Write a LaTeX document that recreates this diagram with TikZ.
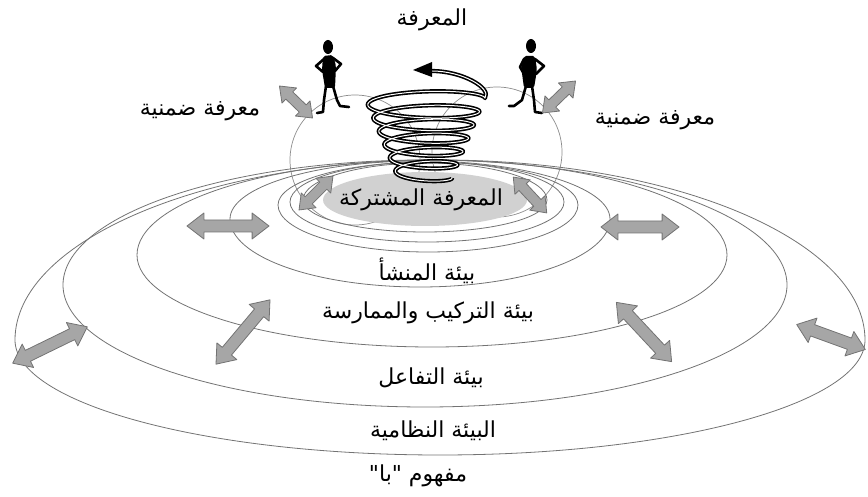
\documentclass[tikz,border=0pt]{standalone}
\usepackage{fontspec}
\newfontfamily\arabicfont[Script=Arabic]{DejaVu Sans}
\TeXXeTstate=1
\usetikzlibrary{arrows.meta}

% one flattened ring: centre x, widest y, half width, upper and lower half height
\newcommand{\ring}[5]{%
  \draw[ring] (#1+#3,#2) arc[start angle=0, end angle=180, x radius=#3pt, y radius=#4pt]
    arc[start angle=180, end angle=360, x radius=#3pt, y radius=#5pt];}

% two-headed block arrow: name, x, y, angle, length, shaft half width, head half width
\newcommand{\twoway}[7]{%
  \begin{scope}[shift={(#2,#3)}, rotate=#4]
    \pgfmathsetmacro\hl{#5/2}
    \pgfmathsetmacro\hk{#5/2-1.3*#7}
    \coordinate (#1) at (0,0);
    \filldraw[arrowbody] (-\hl,0) -- (-\hk,#7) -- (-\hk,#6) -- (\hk,#6) -- (\hk,#7) -- (\hl,0)
      -- (\hk,-#7) -- (\hk,-#6) -- (-\hk,-#6) -- (-\hk,-#7) -- cycle;
  \end{scope}}

\begin{document}
\begin{tikzpicture}[x=1pt, y=-1pt,
    ring/.style={draw=black!55, line width=0.8pt},
    arrowbody/.style={draw=black!55, fill=black!35, line width=0.8pt, line join=round},
    limb/.style={line width=2.6pt, line cap=round, line join=round},
    lbl/.style={font=\arabicfont\fontsize{22}{25}\selectfont, inner sep=1pt}]
	\useasboundingbox (0,0) rectangle (868,497);

	% circles round the two persons
	\draw[black!45, line width=0.7pt] (355,160) circle[radius=65pt];
	\draw[black!45, line width=0.7pt] (497,152) circle[radius=65pt];

	% rings of the places
	\fill[black!18] (527,200) arc[start angle=0, end angle=180, x radius=102pt, y radius=28pt]
		arc[start angle=180, end angle=360, x radius=102pt, y radius=26pt];
	\ring{425}{200}{122}{37}{32}
	\ring{427}{202}{137}{40}{40}
	\ring{428}{205}{150}{43}{47}
	\ring{420}{219}{190}{58}{68}
	\ring{432}{255}{295}{95}{92}
	\ring{425}{285}{362}{125}{122}
	\ring{440}{340}{425}{180}{115}

	% spiral rising out of the shared knowledge (\t counts turns)
	\draw[black, line width=1.6pt, double=white, double distance=1pt, line join=round]
		plot[variable=\t, domain=0:6, samples=360]
		({425+(27+5.5*\t)*cos(360*\t)}, {178-13.3*\t+(6+0.7*\t)*sin(360*\t)})
		.. controls (492,88) and (462,71) .. (432,71);
	\fill (432,71) -- (432,77) -- (413,70) -- (432,62) -- cycle;

	% left person
	\fill (328,47) ellipse[x radius=5pt, y radius=7pt];
	\fill[rounded corners=2pt] (323,56) -- (333,55) -- (336,66) -- (335,88) -- (325,88) -- (322,70) -- cycle;
	\draw[limb] (324,59) -- (316,66) -- (323,72);
	\draw[limb] (333,58) -- (341,64) -- (335,71);
	\draw[limb] (326,86) -- (324,100) -- (323,112) -- (317,113);
	\draw[limb] (333,86) -- (337,100) -- (340,106) -- (349,107);

	% right person
	\fill (531,46) ellipse[x radius=5pt, y radius=7pt];
	\fill[rounded corners=2pt] (524,56) -- (535,56) -- (537,70) -- (534,88) -- (524,88) -- (521,66) -- cycle;
	\draw[limb] (524,59) -- (520,67) -- (524,74);
	\draw[limb] (535,59) -- (544,66) -- (536,74);
	\draw[limb] (526,86) -- (522,100) -- (514,106) -- (509,106);
	\draw[limb] (532,86) -- (534,100) -- (535,112) -- (542,113);

	% two-way arrows
	\twoway{tacitL}{296}{102}{-44}{46}{5}{10.5}
	\twoway{tacitR}{559}{97}{44}{46}{5}{10.5}
	\twoway{sharedL}{316}{193}{45}{48}{5}{10.5}
	\twoway{sharedR}{530}{195}{-47}{49}{5}{10.5}
	\twoway{originL}{228}{226}{0}{82}{6}{13}
	\twoway{originR}{640}{227}{0}{78}{6}{13}
	\twoway{practiceL}{243}{332}{50}{84}{6}{13}
	\twoway{practiceR}{644}{332}{-47}{81}{6}{13}
	\twoway{systemL}{50}{345}{26}{83}{6}{13}
	\twoway{systemR}{831}{337}{-20}{73}{6}{13}

	% labels
	\node[lbl] (knowledge) at (432,20) {\beginR المعرفة\endR};
	\node[lbl] (tacitTextL) at (200,111) {\beginR معرفة ضمنية\endR};
	\node[lbl] (tacitTextR) at (655,120) {\beginR معرفة ضمنية\endR};
	\node[lbl] (shared) at (421,200) {\beginR المعرفة المشتركة\endR};
	\node[lbl] (origin) at (427,271) {\beginR بيئة المنشأ\endR};
	\node[lbl] (practice) at (428,313) {\beginR بيئة التركيب والممارسة\endR};
	\node[lbl] (interact) at (431,378) {\beginR بيئة التفاعل\endR};
	\node[lbl] (system) at (433,431) {\beginR البيئة النظامية\endR};
	\node[lbl] (ba) at (418,476) {\beginR مفهوم "با"\endR};
\end{tikzpicture}
\end{document}
